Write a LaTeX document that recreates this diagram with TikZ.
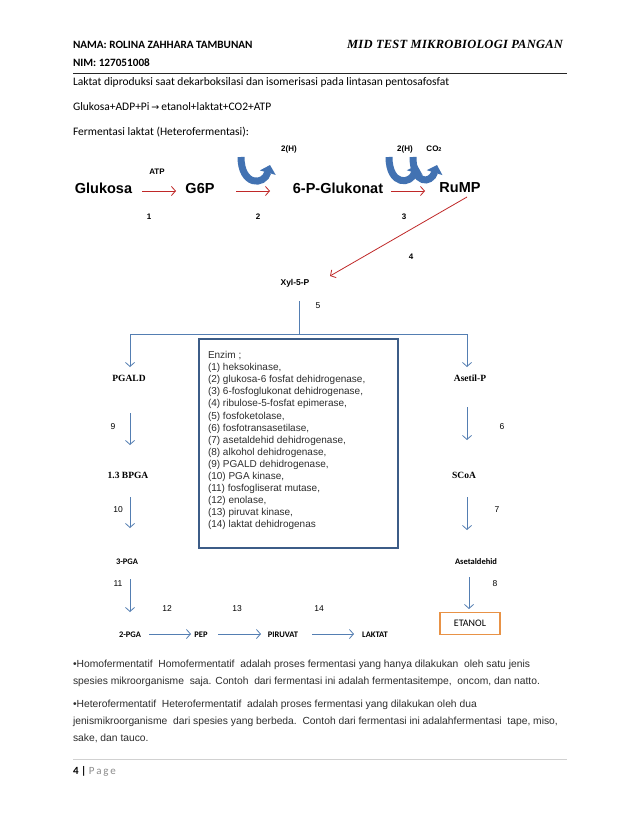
\documentclass[tikz,border=0pt]{standalone}
\usepackage{fontspec}
\setmainfont{Liberation Sans}
\newfontfamily\calib{Carlito}
\newfontfamily\tmsr{Liberation Serif}
\usetikzlibrary{arrows.meta}
\definecolor{dred}{RGB}{192,40,40}
\definecolor{sblue}{RGB}{84,126,178}
\definecolor{bxblue}{RGB}{60,92,135}
\definecolor{cblue}{RGB}{66,114,178}
\definecolor{orng}{RGB}{232,146,70}
\definecolor{txtg}{RGB}{45,45,45}
\begin{document}
\begin{tikzpicture}[x=1pt,y=-1pt,
  every node/.style={inner sep=0pt, outer sep=0pt},
  hdr/.style={font=\calib\bfseries\fontsize{11.2}{13}\selectfont, anchor=base west},
  body/.style={font=\calib\fontsize{11.5}{13}\selectfont, anchor=base west},
  met/.style={font=\bfseries\fontsize{14.5}{16}\selectfont, text depth=0pt},
  lbl/.style={font=\bfseries\fontsize{8}{9}\selectfont, text depth=0pt},
  num/.style={font=\fontsize{8.5}{10}\selectfont, text depth=0pt},
  serifb/.style={font=\tmsr\bfseries\fontsize{9.5}{11}\selectfont, text depth=0pt},
  calb/.style={font=\calib\bfseries\fontsize{8.5}{10}\selectfont, text depth=0pt},
  enz/.style={font=\fontsize{10}{12}\selectfont, anchor=base west, text=txtg},
  para/.style={font=\fontsize{10.3}{12}\selectfont, anchor=base west, text=txtg},
  redarr/.style={draw=dred, line width=0.8pt, -{Straight Barb[length=4pt,width=9pt]}},
  bluearr/.style={draw=sblue, line width=0.8pt, -{Straight Barb[length=4pt,width=9pt]}},
  curv/.style={draw=cblue, line width=7pt, -{Triangle[length=8pt,width=16pt]}},
]
\useasboundingbox[fill=white] (0,0) rectangle (638,826);

% header
\node[hdr] (nama) at (73,49) {NAMA: ROLINA ZAHHARA TAMBUNAN};
\node[hdr] (nim) at (73,67) {NIM: 127051008};
\node[font=\tmsr\bfseries\itshape\fontsize{12.5}{14}\selectfont\addfontfeature{LetterSpace=2}, anchor=base east] (mid) at (563,49) {MID TEST MIKROBIOLOGI PANGAN};
\draw[line width=0.8pt, black!85] (73,73) -- (567,73);

\node[body] (t1) at (73,86) {Laktat diproduksi saat dekarboksilasi dan isomerisasi pada lintasan pentosafosfat};
\node[body] (t2) at (73,111) {Glukosa+ADP+Pi\,{\fontspec{DejaVu Sans}\fontsize{9.5}{10}\selectfont→}\,etanol+laktat+CO2+ATP};
\node[body] (t3) at (73,136) {Fermentasi laktat (Heterofermentasi):};

% top pathway
\node[met] (glu) at (103.5,188) {Glukosa};
\node[met] (g6p) at (200,188) {G6P};
\node[met] (pgl) at (338,188) {6-P-Glukonat};
\node[met] (rump) at (460,188) {RuMP};

\coordinate (a1s) at (142,191); \coordinate (a1e) at (176,191);
\coordinate (a2s) at (236,191); \coordinate (a2e) at (270,191);
\coordinate (a3s) at (391,191); \coordinate (a3e) at (425,191);
\draw[redarr] (a1s) -- (a1e);
\draw[redarr] (a2s) -- (a2e);
\draw[redarr] (a3s) -- (a3e);

\node[lbl] (atp) at (157,172) {ATP};
\node[lbl] (n1) at (149,217) {1};
\node[lbl] (n2) at (258,217) {2};
\node[lbl] (n3) at (404,217) {3};
\node[lbl] (h1) at (289,149) {2(H)};
\node[lbl] (h2) at (405,149) {2(H)};
\node[lbl] (co2) at (434,149) {CO{\fontsize{5.5}{6}\selectfont 2}};

% curved arrows
\draw[curv] (241,157) .. controls (241,186) and (264,186) .. (270,165);
\draw[curv] (389,157) .. controls (389,186) and (411,185) .. (417,165);
\draw[curv] (413,157) .. controls (413,185) and (431,184) .. (437,165);

% to Xyl-5-P
\node[lbl, font=\bfseries\fontsize{8.5}{10}\selectfont] (xyl) at (295,282) {Xyl-5-P};
\coordinate (r4s) at (467,197); \coordinate (r4e) at (330,276);
\draw[redarr] (r4s) -- (r4e);
\node[lbl] (n4) at (411,257) {4};
\node[num] (n5) at (318,306) {5};

% branching
\coordinate (b0) at (299,301); \coordinate (b1) at (299,334);
\coordinate (bl) at (130,367); \coordinate (br) at (467,367);
\draw[draw=sblue, line width=0.8pt] (b0) -- (b1);
\draw[bluearr] (b1) -| (bl);
\draw[bluearr] (b1) -| (br);

% enzyme box
\draw[bxblue, line width=1.8pt] (199,339) rectangle (398,548);
\foreach \t [count=\i from 0] in {{Enzim ;},{(1) heksokinase,},{(2) glukosa-6 fosfat dehidrogenase,},{(3) 6-fosfoglukonat dehidrogenase,},{(4) ribulose-5-fosfat epimerase,},{(5) fosfoketolase,},{(6) fosfotransasetilase,},{(7) asetaldehid dehidrogenase,},{(8) alkohol dehidrogenase,},{(9) PGALD dehidrogenase,},{(10) PGA kinase,},{(11) fosfogliserat mutase,},{(12) enolase,},{(13) piruvat kinase,},{(14) laktat dehidrogenas}}
  \node[enz] (e\i) at (208,{358.5+12.1*\i}) {\t};

% left column
\node[serifb] (pgald) at (129,378) {PGALD};
\node[serifb] (bpga) at (128,475) {1.3 BPGA};
\node[calb] (pga3) at (127,562) {3-PGA};
\node[calb] (pga2) at (130,635) {2-PGA};
\coordinate (l9s) at (130,413); \coordinate (l9e) at (130,445);
\coordinate (l10s) at (130,497); \coordinate (l10e) at (130,528);
\coordinate (l11s) at (130,579); \coordinate (l11e) at (130,612);
\draw[bluearr] (l9s) -- (l9e);
\draw[bluearr] (l10s) -- (l10e);
\draw[bluearr] (l11s) -- (l11e);
\node[num] (n9) at (113,427) {9};
\node[num] (n10) at (118,510) {10};
\node[num] (n11) at (118,584) {11};

% bottom row
\node[calb] (pep) at (201,635) {PEP};
\node[calb] (piru) at (283,635) {PIRUVAT};
\node[calb] (lakt) at (375,635) {LAKTAT};
\coordinate (h12s) at (149,634); \coordinate (h12e) at (191,634);
\coordinate (h13s) at (218,634); \coordinate (h13e) at (261,634);
\coordinate (h14s) at (312,634); \coordinate (h14e) at (354,634);
\draw[bluearr] (h12s) -- (h12e);
\draw[bluearr] (h13s) -- (h13e);
\draw[bluearr] (h14s) -- (h14e);
\node[num] (n12) at (167,609) {12};
\node[num] (n13) at (237,609) {13};
\node[num] (n14) at (319,609) {14};

% right column
\node[serifb] (asp) at (470,378) {Asetil-P};
\node[serifb] (scoa) at (464,475) {SCoA};
\node[calb] (asald) at (476,562) {Asetaldehid};
\coordinate (r6s) at (467,407); \coordinate (r6e) at (467,440);
\coordinate (r7s) at (467,497); \coordinate (r7e) at (467,530);
\coordinate (r8s) at (469,577); \coordinate (r8e) at (469,609);
\draw[bluearr] (r6s) -- (r6e);
\draw[bluearr] (r7s) -- (r7e);
\draw[bluearr] (r8s) -- (r8e);
\node[num] (n6) at (502,427) {6};
\node[num] (n7) at (497,510) {7};
\node[num] (n8) at (495,584) {8};
\node[draw=orng, line width=1.8pt, minimum width=60pt, minimum height=22pt,
      font=\calib\fontsize{10}{12}\selectfont] (etanol) at (470,623.5) {ETANOL};

% paragraphs
\node[para] (p1) at (73,667.5) {\textbullet Homofermentatif\ \ Homofermentatif\ \ adalah proses fermentasi yang hanya dilakukan\ \ oleh satu jenis};
\node[para] (p2) at (73,684.5) {spesies mikroorganisme\ \ saja. Contoh\ \ dari fermentasi ini adalah fermentasitempe,\ \ oncom, dan natto.};
\node[para] (p3) at (73,707.5) {\textbullet Heterofermentatif\ \ Heterofermentatif\ \ adalah proses fermentasi yang dilakukan oleh dua};
\node[para] (p4) at (73,724.5) {jenismikroorganisme\ \ dari spesies yang berbeda.\ \ Contoh dari fermentasi ini adalahfermentasi\ \ tape, miso,};
\node[para] (p5) at (73,741.5) {sake, dan tauco.};

% footer
\draw[line width=0.6pt, black!18] (73,759) -- (567,759);
\node[font=\calib\fontsize{11}{13}\selectfont, anchor=base west] (pg) at (73,774)
  {\textbf{4 |} {\color{black!45}P\,a\,g\,e}};
\end{tikzpicture}
\end{document}
